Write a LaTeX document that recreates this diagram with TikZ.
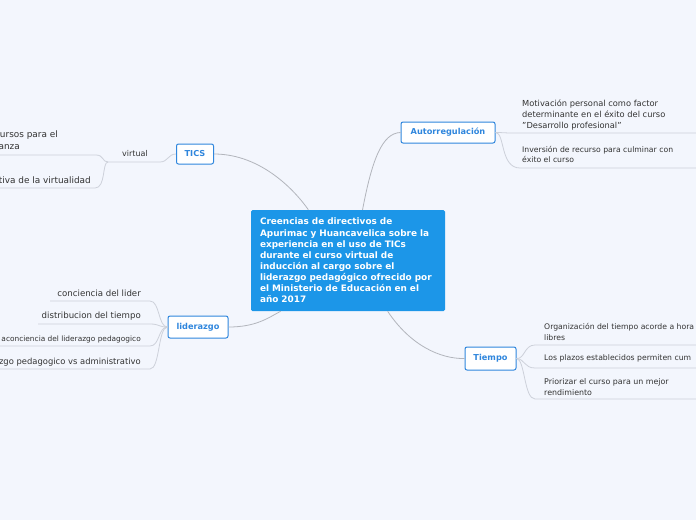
\documentclass[tikz,border=0pt]{standalone}
\usepackage{fontspec}
\setmainfont{DejaVu Sans}
\usetikzlibrary{positioning}
\definecolor{fondo}{HTML}{F3F6FD}
\definecolor{azul}{HTML}{1C96E8}
\definecolor{borde}{HTML}{2F86DD}
\definecolor{texto}{HTML}{333333}
\definecolor{rama}{HTML}{B2B5BC}
\definecolor{linea}{HTML}{CDD1DA}
\tikzset{
  tema/.style={fill=white, draw=borde, line width=1pt, rounded corners=2pt,
    text=borde, font=\bfseries\fontsize{8.2}{9}\selectfont, inner sep=0pt},
  hoja/.style={text=texto, font=\fontsize{8}{10.8}\selectfont, inner sep=0pt},
  conector/.style={draw=rama, line width=0.8pt},
  sub/.style={draw=linea, line width=0.8pt}
}
\begin{document}
\begin{tikzpicture}[x=1pt,y=-1pt]
\useasboundingbox (0,0) rectangle (696,520);
\fill[fondo] (0,0) rectangle (696,520);
\clip (0,0) rectangle (696,520);

% tema central
\node[fill=azul, rounded corners=1.5pt, minimum width=194pt, minimum height=101pt,
  text width=176pt, align=left, text=white, inner sep=0pt,
  font=\bfseries\fontsize{8.9}{11.1}\selectfont] (centro) at (348,260.5)
  {Creencias de directivos de\\ Apurimac y Huancavelica sobre la\\ experiencia en el uso de TICs\\
   durante el curso virtual de\\ inducción al cargo sobre el\\ liderazgo pedagógico ofrecido por\\
   el Ministerio de Educación en el\\ año 2017};

% temas principales
\node[tema, minimum width=37pt, minimum height=20pt] (tics) at (195,154) {TICS};
\node[tema, minimum width=94pt, minimum height=21pt] (auto) at (448,132.5) {Autorregulación};
\node[tema, minimum width=60pt, minimum height=22pt] (lider) at (198,327) {liderazgo};
\node[tema, minimum width=51pt, minimum height=23pt] (tiempo) at (490.5,358.5) {Tiempo};

\draw[conector] (tics.east) .. controls (262,154) and (296,192) .. (centro.128);
\draw[conector] (auto.west) .. controls (382,133) and (372,160) .. (centro.74);
\draw[conector] (lider.east) .. controls (256,327) and (268,318) .. (centro.217);
\draw[conector] (tiempo.west) .. controls (440,359) and (410,345) .. (centro.308);

% TICS
\node[hoja] (virtual) at (135,154) {virtual};
\coordinate (v0) at (108,162);
\coordinate (v1) at (160,162);
\draw[sub] (tics.west) .. controls (168,154) and (168,162) .. (v1) -- (v0);
\node[hoja, anchor=east, font=\fontsize{8.9}{10}\selectfont] (recursos) at (58,135) {ursos para el};
\node[hoja, anchor=east, font=\fontsize{8.9}{10}\selectfont] (recursosb) at (20,147) {anza};
\node[hoja, anchor=east, font=\fontsize{8.9}{10}\selectfont] (perspectiva) at (91,180) {tiva de la virtualidad};
\coordinate (r1) at (96,155);
\coordinate (p1) at (95,188);
\draw[sub] (v0) .. controls (102,162) and (104,155) .. (r1) -- (0,155);
\draw[sub] (v0) .. controls (102,162) and (106,188) .. (p1) -- (0,188);

% Autorregulacion
\node[hoja, anchor=west, align=left, font=\fontsize{8.3}{10.8}\selectfont] (motivacion) at (522,115)
  {Motivación personal como factor\\ determinante en el éxito del curso\\ "Desarrollo profesional"};
\node[hoja, anchor=west, align=left, font=\fontsize{7.7}{10.8}\selectfont] (inversion) at (522,154.5)
  {Inversión de recurso para culminar con\\ éxito el curso};
\coordinate (m1) at (512,133);
\coordinate (i1) at (520,168);
\draw[sub] (auto.east) .. controls (503,132.5) and (505,133) .. (m1) -- (696,133);
\draw[sub] (auto.east) .. controls (505,132.5) and (500,168) .. (i1) -- (696,168);

% liderazgo
\node[hoja, anchor=east, font=\fontsize{8.6}{10}\selectfont] (conciencia) at (141,293) {conciencia del lider};
\node[hoja, anchor=east, font=\fontsize{8.6}{10}\selectfont] (distribucion) at (141,316) {distribucion del tiempo};
\node[hoja, anchor=east, font=\fontsize{7.4}{8}\selectfont] (toma) at (141,339)
  {aconciencia del liderazgo pedagogico};
\node[hoja, anchor=east, font=\fontsize{8.4}{10}\selectfont] (vs) at (141,362) {zgo pedagogico vs administrativo};
\coordinate (l1) at (150,301);
\coordinate (l2) at (150,324);
\coordinate (l3) at (150,346);
\coordinate (l4) at (150,369);
\draw[sub] (lider.west) .. controls (158,327) and (160,301) .. (l1) -- (50,301);
\draw[sub] (lider.west) .. controls (158,327) and (160,324) .. (l2) -- (38,324);
\draw[sub] (lider.west) .. controls (158,327) and (160,346) .. (l3) -- (0,346);
\draw[sub] (lider.west) .. controls (158,327) and (160,369) .. (l4) -- (0,369);

% Tiempo
\node[hoja, anchor=west, align=left, font=\fontsize{7.7}{10.5}\selectfont] (organizacion) at (544,332)
  {Organización del tiempo acorde a hora\\ libres};
\node[hoja, anchor=west, font=\fontsize{7.7}{10}\selectfont] (plazos) at (544,358) {Los plazos establecidos permiten cum};
\node[hoja, anchor=west, align=left, font=\fontsize{7.9}{10.5}\selectfont] (priorizar) at (544,387)
  {Priorizar el curso para un mejor\\ rendimiento};
\coordinate (t1) at (535,345);
\coordinate (t2) at (535,368);
\coordinate (t3) at (535,399);
\draw[sub] (tiempo.east) .. controls (525,359) and (524,345) .. (t1) -- (696,345);
\draw[sub] (tiempo.east) .. controls (525,359) and (524,368) .. (t2) -- (696,368);
\draw[sub] (tiempo.east) .. controls (525,359) and (524,399) .. (t3) -- (696,399);
\end{tikzpicture}
\end{document}
